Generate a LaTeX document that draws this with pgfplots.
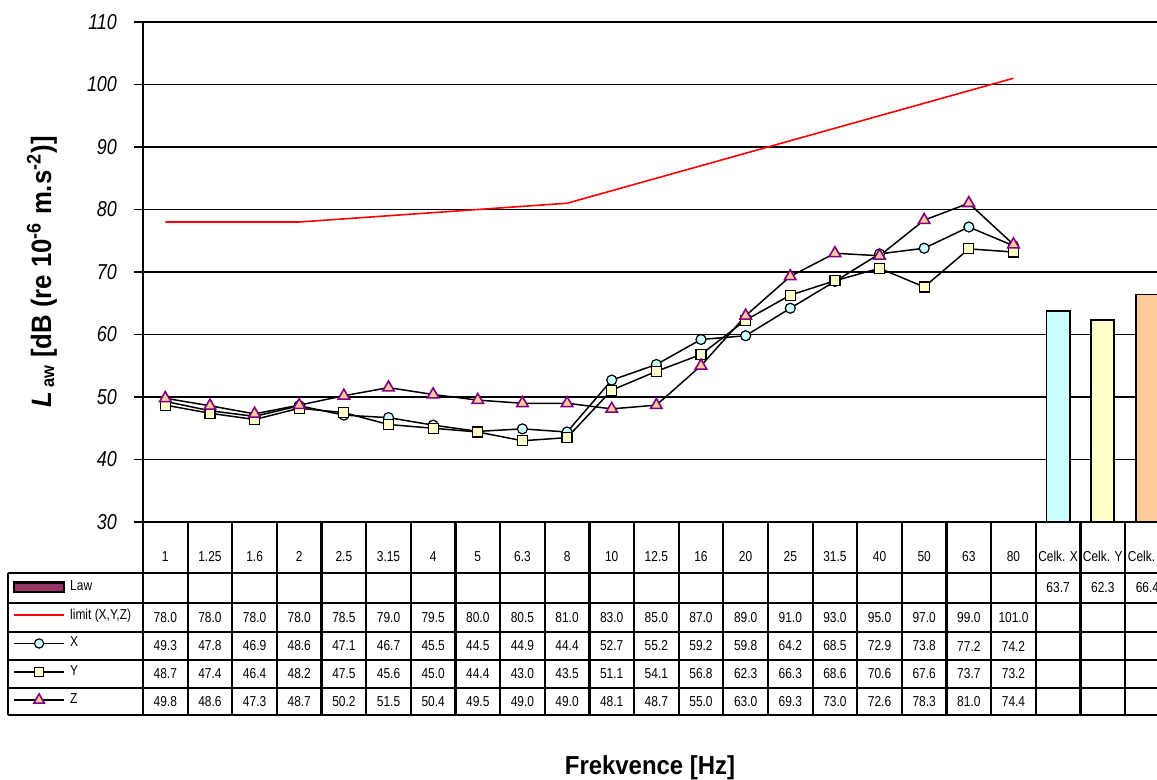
\documentclass[border=0pt]{standalone}
\usepackage{pgfplots}
\pgfplotsset{compat=1.18}
\usepackage{fontspec}
\setmainfont[FakeStretch=0.83]{Liberation Sans}
\newfontfamily\titlefont[FakeStretch=0.92]{Liberation Sans}
\definecolor{lawcol}{HTML}{993366}
\definecolor{cx}{HTML}{CCFFFF}
\definecolor{cy}{HTML}{FFFFCC}
\definecolor{cz}{HTML}{FFCC99}
\definecolor{zpur}{HTML}{800080}
\definecolor{limred}{HTML}{FF0000}
\newcommand{\tblfont}{\fontsize{7.2}{8}\selectfont}
\begin{document}
\begin{tikzpicture}
\path[use as bounding box] (0,0) rectangle (578.5pt,-390pt);
\begin{axis}[
  at={(71.5pt,-261pt)}, anchor=south west,
  scale only axis, width=513.35pt, height=250pt,
  xmin=-0.5, xmax=22.5, ymin=30, ymax=110,
  axis lines=left, axis line style={-, line width=1.2pt},
  ytick={30,40,...,110},
  ymajorgrids, grid style={black, line width=0.95pt},
  tick align=outside, major tick length=4.5pt,
  tick style={black, line width=0.95pt},
  xtick={0,...,22},
  xticklabels={1,1.25,1.6,2,2.5,3.15,4,5,6.3,8,10,12.5,16,20,25,31.5,40,50,63,80,Celk. X,Celk. Y,Celk. Z},
  xtick style={draw=none},
  xticklabel style={font=\tblfont, anchor=center, yshift=-12.75pt},
  /pgf/number format/assume math mode=true,
  yticklabel style={font=\fontsize{10.8}{12}\selectfont\itshape, xshift=-5pt},
  xlabel={Frekvence [Hz]},
  xlabel style={at={(axis description cs:0.4938,-0.492)}, anchor=center, font=\titlefont\bfseries\fontsize{13}{15}\selectfont},
  ylabel={\fontsize{14}{15}\selectfont\textit{L}\,\raisebox{-1.5pt}{\fontsize{9}{10}\selectfont aw} [dB (re 10\textsuperscript{-6} m.s\textsuperscript{-2})]},
  ylabel style={at={(axis description cs:-0.0984,0.5)}, anchor=center, font=\titlefont\bfseries\fontsize{13}{15}\selectfont},
  legend style={at={(axis description cs:-0.1266,-0.102)}, anchor=north west, draw=none, fill=none, inner sep=0pt, outer sep=0pt, row sep=0pt,
    nodes={font=\tblfont, minimum height=14.1pt, inner sep=0pt, inner xsep=2.5pt}},
  legend cell align=left,
]
\addlegendimage{legend image code/.code={\draw[fill=lawcol,draw=black,line width=1.1pt] (0pt,-2.3pt) rectangle (25pt,2.3pt);}}
\addlegendentry{Law}
\addlegendimage{legend image code/.code={\draw[color=limred, line width=0.9pt] (0pt,0pt) -- (25pt,0pt);}}
\addlegendentry{limit (X,Y,Z)}
\addlegendimage{legend image code/.code={\draw[color=black, line width=0.9pt] (0pt,0pt) -- (25pt,0pt); \filldraw[fill=cx, draw=black, line width=0.6pt] (12.5pt,0pt) circle (2.3pt);}}
\addlegendentry{X}
\addlegendimage{legend image code/.code={\draw[color=black, line width=0.9pt] (0pt,0pt) -- (25pt,0pt); \filldraw[fill=cy, draw=black, line width=0.6pt] (10.3pt,-2.2pt) rectangle (14.7pt,2.2pt);}}
\addlegendentry{Y}
\addlegendimage{legend image code/.code={\draw[color=black, line width=0.9pt] (0pt,0pt) -- (25pt,0pt); \filldraw[fill=cz, draw=zpur, line width=0.8pt] (9.9pt,-1.6pt) -- (15.1pt,-1.6pt) -- (12.5pt,3pt) -- cycle;}}
\addlegendentry{Z}
\addplot[ybar, bar width=0.52, bar shift=0pt, fill=cx, draw=black, line width=0.9pt, forget plot] coordinates {(20,63.7)};
\addplot[ybar, bar width=0.52, bar shift=0pt, fill=cy, draw=black, line width=0.9pt, forget plot] coordinates {(21,62.3)};
\addplot[ybar, bar width=0.52, bar shift=0pt, fill=cz, draw=black, line width=0.9pt, forget plot] coordinates {(22,66.4)};
\addplot[draw=limred, line width=0.8pt, mark=none, forget plot] coordinates {(0,78)(1,78)(2,78)(3,78)(4,78.5)(5,79)(6,79.5)(7,80)(8,80.5)(9,81)(10,83)(11,85)(12,87)(13,89)(14,91)(15,93)(16,95)(17,97)(18,99)(19,101)};
\addplot[black, line width=0.75pt, mark=*, mark size=2.5pt, mark options={fill=cx, draw=black, line width=0.6pt}, forget plot] coordinates {(0,49.3)(1,47.8)(2,46.9)(3,48.6)(4,47.1)(5,46.7)(6,45.5)(7,44.5)(8,44.9)(9,44.4)(10,52.7)(11,55.2)(12,59.2)(13,59.8)(14,64.2)(15,68.5)(16,72.9)(17,73.8)(18,77.2)(19,74.2)};
\addplot[black, line width=0.75pt, mark=square*, mark size=2.5pt, mark options={fill=cy, draw=black, line width=0.6pt}, forget plot] coordinates {(0,48.7)(1,47.4)(2,46.4)(3,48.2)(4,47.5)(5,45.6)(6,45.0)(7,44.4)(8,43.0)(9,43.5)(10,51.1)(11,54.1)(12,56.8)(13,62.3)(14,66.3)(15,68.6)(16,70.6)(17,67.6)(18,73.7)(19,73.2)};
\addplot[black, line width=0.75pt, mark=triangle*, mark size=3.3pt, mark options={fill=cz, draw=zpur, line width=0.8pt}, forget plot] coordinates {(0,49.8)(1,48.6)(2,47.3)(3,48.7)(4,50.2)(5,51.5)(6,50.4)(7,49.5)(8,49.0)(9,49.0)(10,48.1)(11,48.7)(12,55.0)(13,63.0)(14,69.3)(15,73.0)(16,72.6)(17,78.3)(18,81.0)(19,74.4)};
\end{axis}
\begin{scope}[x=0.5pt,y=-0.5pt]
  \foreach \yy in {573,603,632,660,688,715} \draw[line width=1.1pt] (8,\yy) -- (1175,\yy);
  \draw[line width=1.1pt] (8,573) -- (8,715);
  \foreach \k in {0,...,23} \draw[line width=1.1pt] ({143+\k*44.64},522) -- ({143+\k*44.64},715);
  \foreach \v [count=\i from 20] in {63.7,62.3,66.4} \node[font=\tblfont] at ({165.32+\i*44.64},588) {\v};
  \foreach \v [count=\i from 0] in {78.0,78.0,78.0,78.0,78.5,79.0,79.5,80.0,80.5,81.0,83.0,85.0,87.0,89.0,91.0,93.0,95.0,97.0,99.0,101.0} \node[font=\tblfont] at ({165.32+\i*44.64},617.5) {\v};
  \foreach \v [count=\i from 0] in {49.3,47.8,46.9,48.6,47.1,46.7,45.5,44.5,44.9,44.4,52.7,55.2,59.2,59.8,64.2,68.5,72.9,73.8,77.2,74.2} \node[font=\tblfont] at ({165.32+\i*44.64},646) {\v};
  \foreach \v [count=\i from 0] in {48.7,47.4,46.4,48.2,47.5,45.6,45.0,44.4,43.0,43.5,51.1,54.1,56.8,62.3,66.3,68.6,70.6,67.6,73.7,73.2} \node[font=\tblfont] at ({165.32+\i*44.64},674) {\v};
  \foreach \v [count=\i from 0] in {49.8,48.6,47.3,48.7,50.2,51.5,50.4,49.5,49.0,49.0,48.1,48.7,55.0,63.0,69.3,73.0,72.6,78.3,81.0,74.4} \node[font=\tblfont] at ({165.32+\i*44.64},701.5) {\v};
\end{scope}
\end{tikzpicture}
\end{document}
